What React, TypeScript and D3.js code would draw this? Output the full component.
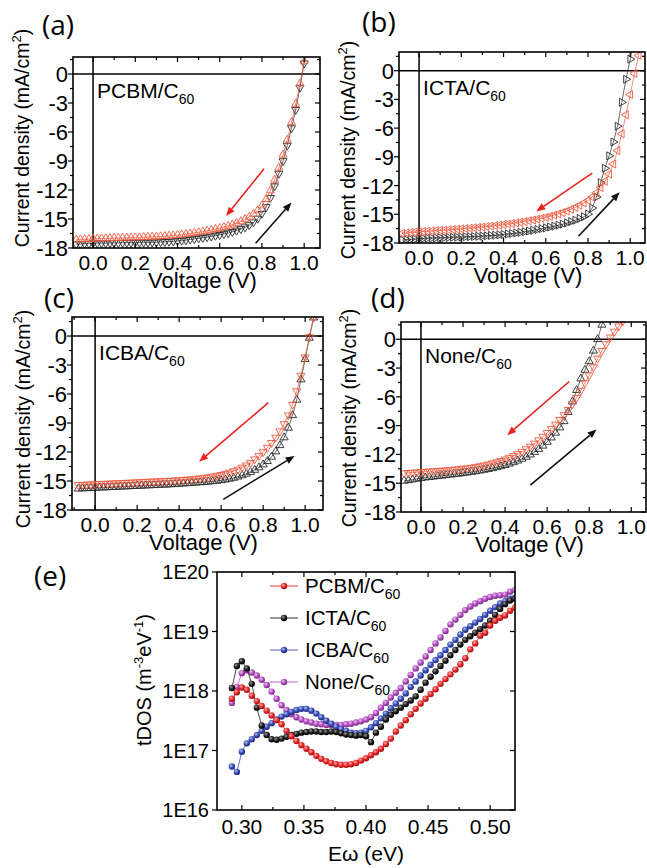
import React from "react";
import * as d3 from "d3";

// ---- J-V data (mA/cm2), one value per voltage step ----
const voltage = [-0.08, -0.06, -0.04, -0.02, 0, 0.02, 0.04, 0.06, 0.08, 0.1, 0.12, 0.14, 0.16, 0.18, 0.2, 0.22, 0.24, 0.26, 0.28, 0.3, 0.32, 0.34, 0.36, 0.38, 0.4, 0.42, 0.44, 0.46, 0.48, 0.5, 0.52, 0.54, 0.56, 0.58, 0.6, 0.62, 0.64, 0.66, 0.68, 0.7, 0.72, 0.74, 0.76, 0.78, 0.8, 0.82, 0.84, 0.86, 0.88, 0.9, 0.92, 0.94, 0.96, 0.98, 1.0, 1.02, 1.04, 1.06];

const pcbmFwd = [-17.6, -17.6, -17.55, -17.55, -17.5, -17.5, -17.5, -17.5, -17.48, -17.47,
  -17.47, -17.46, -17.45, -17.45, -17.44, -17.43, -17.42, -17.42, -17.41, -17.4,
  -17.38, -17.36, -17.34, -17.31, -17.27, -17.23, -17.18, -17.12, -17.06, -17.0,
  -16.94, -16.87, -16.8, -16.72, -16.64, -16.55, -16.45, -16.33, -16.19, -16.03,
  -15.85, -15.62, -15.33, -14.95, -14.45, -13.75, -12.8, -11.6, -10.3, -9.0,
  -7.4, -5.6, -3.7, -1.4, 1.1, 3.5];
const pcbmRev = [-17.15, -17.12, -17.1, -17.08, -17.05, -17.04, -17.02, -17.0, -16.99, -16.98,
  -16.96, -16.95, -16.94, -16.93, -16.92, -16.9, -16.88, -16.86, -16.84, -16.82,
  -16.8, -16.77, -16.74, -16.7, -16.66, -16.61, -16.56, -16.5, -16.44, -16.37,
  -16.3, -16.22, -16.14, -16.05, -15.95, -15.84, -15.72, -15.58, -15.42, -15.24,
  -15.03, -14.78, -14.48, -14.1, -13.62, -12.95, -12.05, -10.95, -9.7, -8.35,
  -6.8, -5.0, -3.1, -1.0, 1.3, 3.6];

const ictaFwd = [-17.7, -17.65, -17.62, -17.6, -17.55, -17.52, -17.5, -17.48, -17.46, -17.45,
  -17.43, -17.42, -17.4, -17.39, -17.37, -17.36, -17.34, -17.32, -17.3, -17.28,
  -17.25, -17.22, -17.19, -17.15, -17.11, -17.06, -17.01, -16.95, -16.89, -16.82,
  -16.75, -16.67, -16.59, -16.5, -16.42, -16.33, -16.24, -16.14, -16.03, -15.9,
  -15.77, -15.62, -15.45, -15.26, -14.98, -14.35, -13.2, -11.7, -10.2, -8.9,
  -7.45, -5.8, -3.3, -0.9, 1.2, 3.4];
const ictaRev = [-17.0, -16.95, -16.9, -16.87, -16.83, -16.8, -16.77, -16.74, -16.71, -16.68,
  -16.65, -16.62, -16.59, -16.56, -16.52, -16.49, -16.45, -16.41, -16.37, -16.33,
  -16.29, -16.24, -16.19, -16.14, -16.09, -16.03, -15.97, -15.9, -15.83, -15.76,
  -15.68, -15.6, -15.51, -15.42, -15.32, -15.21, -15.09, -14.96, -14.82, -14.66,
  -14.48, -14.28, -14.06, -13.82, -13.55, -13.2, -12.75, -12.2, -11.55, -10.8,
  -9.75, -8.35, -6.6, -4.6, -2.5, -0.3, 1.6, 3.5];

const icbaFwd = [-15.8, -15.78, -15.76, -15.74, -15.72, -15.7, -15.68, -15.66, -15.64, -15.62,
  -15.6, -15.58, -15.56, -15.54, -15.52, -15.5, -15.48, -15.46, -15.44, -15.42,
  -15.4, -15.38, -15.36, -15.33, -15.3, -15.27, -15.24, -15.21, -15.18, -15.15,
  -15.12, -15.08, -15.04, -14.99, -14.93, -14.86, -14.78, -14.68, -14.56, -14.42,
  -14.26, -14.08, -13.86, -13.6, -13.3, -12.95, -12.5, -11.95, -11.3, -10.5,
  -9.5, -8.2, -6.6, -4.5, -2.4, -0.2, 1.9, 3.8];
const icbaRev = [-15.4, -15.38, -15.36, -15.34, -15.32, -15.3, -15.28, -15.26, -15.24, -15.22,
  -15.2, -15.18, -15.16, -15.14, -15.12, -15.1, -15.08, -15.06, -15.04, -15.02,
  -15.0, -14.98, -14.96, -14.93, -14.9, -14.87, -14.84, -14.8, -14.76, -14.71,
  -14.66, -14.6, -14.53, -14.45, -14.36, -14.25, -14.12, -13.97, -13.8, -13.6,
  -13.38, -13.13, -12.75, -12.4, -12.0, -11.55, -11.05, -10.5, -9.85, -9.1,
  -8.2, -7.1, -5.7, -4.1, -2.2, -0.1, 1.9, 3.8];

const noneFwd = [-14.75, -14.7, -14.62, -14.55, -14.48, -14.42, -14.37, -14.32, -14.27, -14.22,
  -14.17, -14.12, -14.07, -14.02, -13.96, -13.9, -13.84, -13.77, -13.7, -13.62,
  -13.54, -13.45, -13.35, -13.24, -13.12, -12.98, -12.83, -12.66, -12.47, -12.26,
  -12.02, -11.75, -11.45, -11.1, -10.7, -10.25, -9.75, -9.2, -8.55, -7.6,
  -6.5, -5.3, -4.1, -3.2, -2.3, -1.2, 0.0, 1.5, 3.0];
const noneRev = [-13.95, -13.92, -13.89, -13.86, -13.83, -13.8, -13.77, -13.74, -13.71, -13.68,
  -13.65, -13.61, -13.57, -13.53, -13.48, -13.43, -13.37, -13.3, -13.22, -13.13,
  -13.03, -12.92, -12.8, -12.66, -12.51, -12.34, -12.15, -11.94, -11.71, -11.45,
  -11.17, -10.86, -10.52, -10.15, -9.75, -9.33, -8.88, -8.4, -7.9, -7.35,
  -6.75, -6.1, -5.35, -4.55, -3.75, -2.9, -2.0, -1.2, -0.5, 0.2,
  0.8, 1.35, 1.9, 2.5];

// scan-direction arrows: [V start, J start, V head, J head]
const arrowsPcbm = { rev: [0.81, -9.8, 0.63, -14.7], fwd: [0.77, -17.5, 0.94, -13.3] };
const arrowsIcta = { rev: [0.82, -10.7, 0.555, -14.7], fwd: [0.755, -17.3, 0.95, -12.7] };
const arrowsIcba = { rev: [0.825, -6.9, 0.495, -13.0], fwd: [0.61, -16.9, 0.95, -12.4] };
const arrowsNone = { rev: [0.705, -4.4, 0.41, -10.0], fwd: [0.52, -15.2, 0.835, -9.4] };

const jvXMajor = [0, 0.2, 0.4, 0.6, 0.8, 1.0];
const jvXMinor = [-0.1, 0.1, 0.3, 0.5, 0.7, 0.9];
const jvYMajor = [0, -3, -6, -9, -12, -15, -18];
const jvYMinor = [1.5, -1.5, -4.5, -7.5, -10.5, -13.5, -16.5];

// ---- tDOS data: log10 of tDOS (m^-3 eV^-1) vs E (eV) ----
const energy = [0.292, 0.296, 0.3, 0.304, 0.308, 0.312, 0.316, 0.32, 0.324, 0.328, 0.332, 0.336, 0.34, 0.344, 0.348, 0.352, 0.356, 0.36, 0.364, 0.368, 0.372, 0.376, 0.38, 0.384, 0.388, 0.392, 0.396, 0.4, 0.404, 0.408, 0.412, 0.416, 0.42, 0.424, 0.428, 0.432, 0.436, 0.44, 0.444, 0.448, 0.452, 0.456, 0.46, 0.464, 0.468, 0.472, 0.476, 0.48, 0.484, 0.488, 0.492, 0.496, 0.5, 0.504, 0.508, 0.512, 0.516, 0.52];

const tdosPcbm = [17.87, 17.98, 18.06, 18.02, 17.92, 17.83, 17.75, 17.67, 17.59, 17.51,
  17.44, 17.33, 17.24, 17.16, 17.09, 17.03, 16.97, 16.91, 16.86, 16.82,
  16.79, 16.77, 16.76, 16.76, 16.77, 16.79, 16.83, 16.87, 16.92, 16.97,
  17.03, 17.11, 17.2, 17.32, 17.42, 17.51, 17.61, 17.7, 17.79, 17.87,
  17.95, 18.03, 18.12, 18.2, 18.28, 18.36, 18.45, 18.55, 18.7, 18.8,
  18.93, 18.98, 19.1, 19.18, 19.23, 19.27, 19.35, 19.4];
const tdosIcta = [18.05, 18.42, 18.5, 18.38, 18.12, 17.72, 17.42, 17.26, 17.19, 17.18,
  17.2, 17.23, 17.26, 17.28, 17.3, 17.31, 17.32, 17.32, 17.31, 17.31,
  17.32, 17.31, 17.29, 17.27, 17.26, 17.25, 17.26, 17.24, 17.14, 17.3,
  17.4, 17.52, 17.6, 17.66, 17.72, 17.78, 17.84, 17.91, 18.02, 18.14,
  18.24, 18.33, 18.42, 18.51, 18.6, 18.69, 18.78, 18.86, 18.92, 18.98,
  19.04, 19.1, 19.18, 19.28, 19.38, 19.46, 19.52, 19.55];
const tdosIcba = [16.73, 16.64, 16.98, 17.12, 17.19, 17.26, 17.33, 17.4, 17.46, 17.52,
  17.57, 17.61, 17.65, 17.68, 17.7, 17.7, 17.67, 17.62, 17.56, 17.5,
  17.45, 17.4, 17.36, 17.33, 17.3, 17.29, 17.3, 17.33, 17.39, 17.46,
  17.54, 17.62, 17.71, 17.79, 17.87, 17.96, 18.07, 18.16, 18.26, 18.35,
  18.44, 18.52, 18.6, 18.69, 18.78, 18.86, 18.95, 19.03, 19.09, 19.15,
  19.21, 19.28, 19.35, 19.41, 19.47, 19.51, 19.55, 19.57];
const tdosNone = [17.8, 18.07, 18.3, 18.35, 18.31, 18.26, 18.19, 18.1, 17.99, 17.87,
  17.76, 17.68, 17.61, 17.56, 17.52, 17.49, 17.47, 17.45, 17.44, 17.43,
  17.43, 17.43, 17.43, 17.44, 17.45, 17.47, 17.49, 17.52, 17.56, 17.63,
  17.72, 17.8, 17.89, 17.97, 18.05, 18.16, 18.27, 18.38, 18.48, 18.58,
  18.69, 18.8, 18.9, 19.01, 19.12, 19.2, 19.28, 19.36, 19.42, 19.47,
  19.51, 19.55, 19.58, 19.6, 19.61, 19.62, 19.67, 19.7];

const tdosXTicks = [0.3, 0.35, 0.4, 0.45, 0.5];
const tdosXMinor = [0.325, 0.375, 0.425, 0.475];
const tdosYTicks = [1e16, 1e17, 1e18, 1e19, 1e20];
const tdosYLabels = ["1E16", "1E17", "1E18", "1E19", "1E20"];

const legendNames = ["PCBM", "ICTA", "ICBA", "None"];

// ---- layout ----
const FONT = "'Liberation Sans', Arial, Helvetica, sans-serif";
const TAG_FONT = "'Open Sans', 'Liberation Sans', sans-serif";
const RED_MK = "#ee5a3f";
const BLK_MK = "#2a2a2a";

const jvPanels = [
  { id: "a", tag: "(a)", name: "PCBM", fwd: pcbmFwd, rev: pcbmRev, arrows: arrowsPcbm,
    box: { l: 73, r: 320, t: 57, b: 248 }, xDom: [-0.095, 1.075], yTop: 1.76,
    rotF: 180, rotR: 0, tagAt: [42, 35], yTitle: [29, 138] },
  { id: "b", tag: "(b)", name: "ICTA", fwd: ictaFwd, rev: ictaRev, arrows: arrowsIcta,
    box: { l: 399, r: 645, t: 52, b: 243 }, xDom: [-0.095, 1.07], yTop: 1.95,
    rotF: 90, rotR: -90, tagAt: [362, 32], yTitle: [355, 150] },
  { id: "c", tag: "(c)", name: "ICBA", fwd: icbaFwd, rev: icbaRev, arrows: arrowsIcba,
    box: { l: 72, r: 323, t: 317, b: 510 }, xDom: [-0.11, 1.085], yTop: 1.97,
    rotF: 0, rotR: 180, tagAt: [44, 308], yTitle: [30, 419] },
  { id: "d", tag: "(d)", name: "None", fwd: noneFwd, rev: noneRev, arrows: arrowsNone,
    box: { l: 401, r: 646, t: 322, b: 512 }, xDom: [-0.095, 1.07], yTop: 1.8,
    rotF: 0, rotR: 180, tagAt: [371, 308], yTitle: [356, 418] },
];

function Arrow({ pts, x, y, color }: any) {
  const x1 = x(pts[0]), y1 = y(pts[1]), x2 = x(pts[2]), y2 = y(pts[3]);
  const ang = Math.atan2(y2 - y1, x2 - x1);
  const hl = 9, hw = 3.6;
  const bx = x2 - hl * Math.cos(ang), by = y2 - hl * Math.sin(ang);
  const px = -Math.sin(ang) * hw, py = Math.cos(ang) * hw;
  return (
    <g>
      <line x1={x1} y1={y1} x2={bx} y2={by} stroke={color} strokeWidth={1.6} />
      <polygon points={`${x2},${y2} ${bx + px},${by + py} ${bx - px},${by - py}`} fill={color} />
    </g>
  );
}

function JVPanel({ p }: any) {
  const { box } = p;
  const x = d3.scaleLinear().domain(p.xDom).range([box.l, box.r]);
  const y = d3.scaleLinear().domain([-18, p.yTop]).range([box.b, box.t]);
  const line = d3.line<number>().x((_, i) => x(voltage[i])).y((d) => y(d));
  const tri = d3.symbol().type(d3.symbolTriangle).size(28)() as string;
  const inX = (v: number) => v >= p.xDom[0] && v <= p.xDom[1];
  const clip = `clip-${p.id}`;

  const series = (vals: number[], color: string, rot: number) => (
    <g>
      <path d={line(vals) as string} fill="none" stroke={color} strokeWidth={0.7} />
      {vals.map((v, i) => (
        <path key={i} d={tri} transform={`translate(${x(voltage[i])},${y(v)}) rotate(${rot})`}
          fill="none" stroke={color} strokeWidth={0.9} />
      ))}
    </g>
  );

  return (
    <g>
      <defs>
        <clipPath id={clip}>
          <rect x={box.l} y={box.t} width={box.r - box.l} height={box.b - box.t} />
        </clipPath>
      </defs>
      <g clipPath={`url(#${clip})`}>
        <line x1={box.l} x2={box.r} y1={y(0)} y2={y(0)} stroke="#000" strokeWidth={1.5} />
        <line x1={x(0)} x2={x(0)} y1={box.t} y2={box.b} stroke="#000" strokeWidth={1.5} />
        {series(p.fwd, BLK_MK, p.rotF)}
        {series(p.rev, RED_MK, p.rotR)}
      </g>
      <Arrow pts={p.arrows.rev} x={x} y={y} color="#e8231f" />
      <Arrow pts={p.arrows.fwd} x={x} y={y} color="#111" />
      <rect x={box.l} y={box.t} width={box.r - box.l} height={box.b - box.t}
        fill="none" stroke="#000" strokeWidth={1.6} />
      {jvXMajor.concat(jvXMinor).filter(inX).map((v) => {
        const len = jvXMajor.includes(v) ? 5 : 3;
        return (
          <g key={`x${v}`}>
            <line x1={x(v)} x2={x(v)} y1={box.b} y2={box.b - len} stroke="#000" strokeWidth={1.2} />
            <line x1={x(v)} x2={x(v)} y1={box.t} y2={box.t + len} stroke="#000" strokeWidth={1.2} />
          </g>
        );
      })}
      {jvYMajor.concat(jvYMinor).map((v) => {
        const len = jvYMajor.includes(v) ? 5 : 3;
        return (
          <g key={`y${v}`}>
            <line x1={box.l} x2={box.l - len} y1={y(v)} y2={y(v)} stroke="#000" strokeWidth={1.2} />
            <line x1={box.r} x2={box.r - len} y1={y(v)} y2={y(v)} stroke="#000" strokeWidth={1.2} />
          </g>
        );
      })}
      {jvXMajor.map((v) => (
        <text key={`xl${v}`} x={x(v)} y={box.b + 22} textAnchor="middle" fontSize={21}>
          {d3.format(".1f")(v)}
        </text>
      ))}
      {jvYMajor.map((v) => (
        <text key={`yl${v}`} x={box.l - 5} y={y(v) + 8} textAnchor="end" fontSize={22}>
          {String(v)}
        </text>
      ))}
      <text x={(box.l + box.r) / 2 + 6} y={box.b + 40} textAnchor="middle" fontSize={22}>
        Voltage (V)
      </text>
      <text transform={`translate(${p.yTitle[0]},${p.yTitle[1]}) rotate(-90)`} textAnchor="middle" fontSize={19.5}>
        Current density (mA/cm<tspan dy={-8} fontSize={13}>2</tspan><tspan dy={8}>)</tspan>
      </text>
      <text x={x(0) + 4} y={y(0) + 24} fontSize={21}>
        {p.name}/C<tspan dy={6} fontSize={14}>60</tspan>
      </text>
      <text x={p.tagAt[0]} y={p.tagAt[1]} fontSize={28} fontFamily={TAG_FONT}>{p.tag}</text>
    </g>
  );
}

const tdosSeries = [
  { name: "PCBM", vals: tdosPcbm, color: "#e8262a", light: "#ffb0a8", dark: "#a01010" },
  { name: "ICTA", vals: tdosIcta, color: "#1c1c1c", light: "#9a9a9a", dark: "#000000" },
  { name: "ICBA", vals: tdosIcba, color: "#3a4db2", light: "#b4c0ff", dark: "#1c2a80" },
  { name: "None", vals: tdosNone, color: "#b24fbf", light: "#f0c0f6", dark: "#7a2a86" },
];

function TdosPanel() {
  const box = { l: 217, r: 515, t: 572, b: 810 };
  const x = d3.scaleLinear().domain([0.28, 0.52]).range([box.l, box.r]);
  const y = d3.scaleLog().domain([1e16, 1e20]).range([box.b, box.t]);
  const line = d3.line<number>().x((_, i) => x(energy[i])).y((d) => y(Math.pow(10, d)));
  const drawOrder = [3, 2, 1, 0];
  const legendY = [586, 618, 650, 682];
  return (
    <g>
      <defs>
        {tdosSeries.map((s) => (
          <radialGradient key={s.name} id={`ball-${s.name}`} cx="38%" cy="35%" r="65%">
            <stop offset="0%" stopColor={s.light} />
            <stop offset="55%" stopColor={s.color} />
            <stop offset="100%" stopColor={s.dark} />
          </radialGradient>
        ))}
        <clipPath id="clip-e">
          <rect x={box.l} y={box.t} width={box.r - box.l} height={box.b - box.t} />
        </clipPath>
      </defs>
      <g clipPath="url(#clip-e)">
        {drawOrder.map((k) => {
          const s = tdosSeries[k];
          return (
            <g key={s.name}>
              <path d={line(s.vals) as string} fill="none" stroke={s.color} strokeWidth={0.8} />
              {s.vals.map((v, i) => (
                <circle key={i} cx={x(energy[i])} cy={y(Math.pow(10, v))} r={3.2}
                  fill={`url(#ball-${s.name})`} />
              ))}
            </g>
          );
        })}
      </g>
      <rect x={box.l} y={box.t} width={box.r - box.l} height={box.b - box.t}
        fill="none" stroke="#000" strokeWidth={1.6} />
      {tdosXTicks.concat(tdosXMinor).map((v) => {
        const len = tdosXTicks.includes(v) ? 5 : 3;
        return (
          <g key={`ex${v}`}>
            <line x1={x(v)} x2={x(v)} y1={box.b} y2={box.b - len} stroke="#000" strokeWidth={1.2} />
            <line x1={x(v)} x2={x(v)} y1={box.t} y2={box.t + len} stroke="#000" strokeWidth={1.2} />
          </g>
        );
      })}
      {tdosYTicks.map((v, i) => (
        <g key={`ey${v}`}>
          <line x1={box.l} x2={box.l - 5} y1={y(v)} y2={y(v)} stroke="#000" strokeWidth={1.2} />
          <line x1={box.r} x2={box.r - 5} y1={y(v)} y2={y(v)} stroke="#000" strokeWidth={1.2} />
          <text x={box.l - 8} y={y(v) + 7} textAnchor="end" fontSize={20}>{tdosYLabels[i]}</text>
        </g>
      ))}
      {tdosXTicks.map((v) => (
        <text key={`exl${v}`} x={x(v)} y={box.b + 24} textAnchor="middle" fontSize={21}>
          {d3.format(".2f")(v)}
        </text>
      ))}
      <text x={366} y={861} textAnchor="middle" fontSize={21}>Eω (eV)</text>
      <text transform={`translate(151,680) rotate(-90)`} textAnchor="middle" fontSize={20}>
        tDOS (m<tspan dy={-8} fontSize={13}>-3</tspan><tspan dy={8}>eV</tspan>
        <tspan dy={-8} fontSize={13}>-1</tspan><tspan dy={8}>)</tspan>
      </text>
      {tdosSeries.map((s, i) => (
        <g key={`lg${s.name}`}>
          <line x1={270} x2={298} y1={legendY[i]} y2={legendY[i]} stroke={s.color} strokeWidth={0.9} />
          <circle cx={284} cy={legendY[i]} r={3.2} fill={`url(#ball-${s.name})`} />
          <text x={305} y={legendY[i] + 7} fontSize={20.5}>
            {legendNames[i]}/C<tspan dy={6} fontSize={14}>60</tspan>
          </text>
        </g>
      ))}
      <text x={34} y={586} fontSize={28} fontFamily={TAG_FONT}>(e)</text>
    </g>
  );
}

export default function App() {
  return (
    <svg width={647} height={868} viewBox="0 0 647 868"
      style={{ position: "absolute", left: 0, top: 0, background: "#fff" }}
      fontFamily={FONT}>
      {jvPanels.map((p) => <JVPanel key={p.id} p={p} />)}
      <TdosPanel />
    </svg>
  );
}
